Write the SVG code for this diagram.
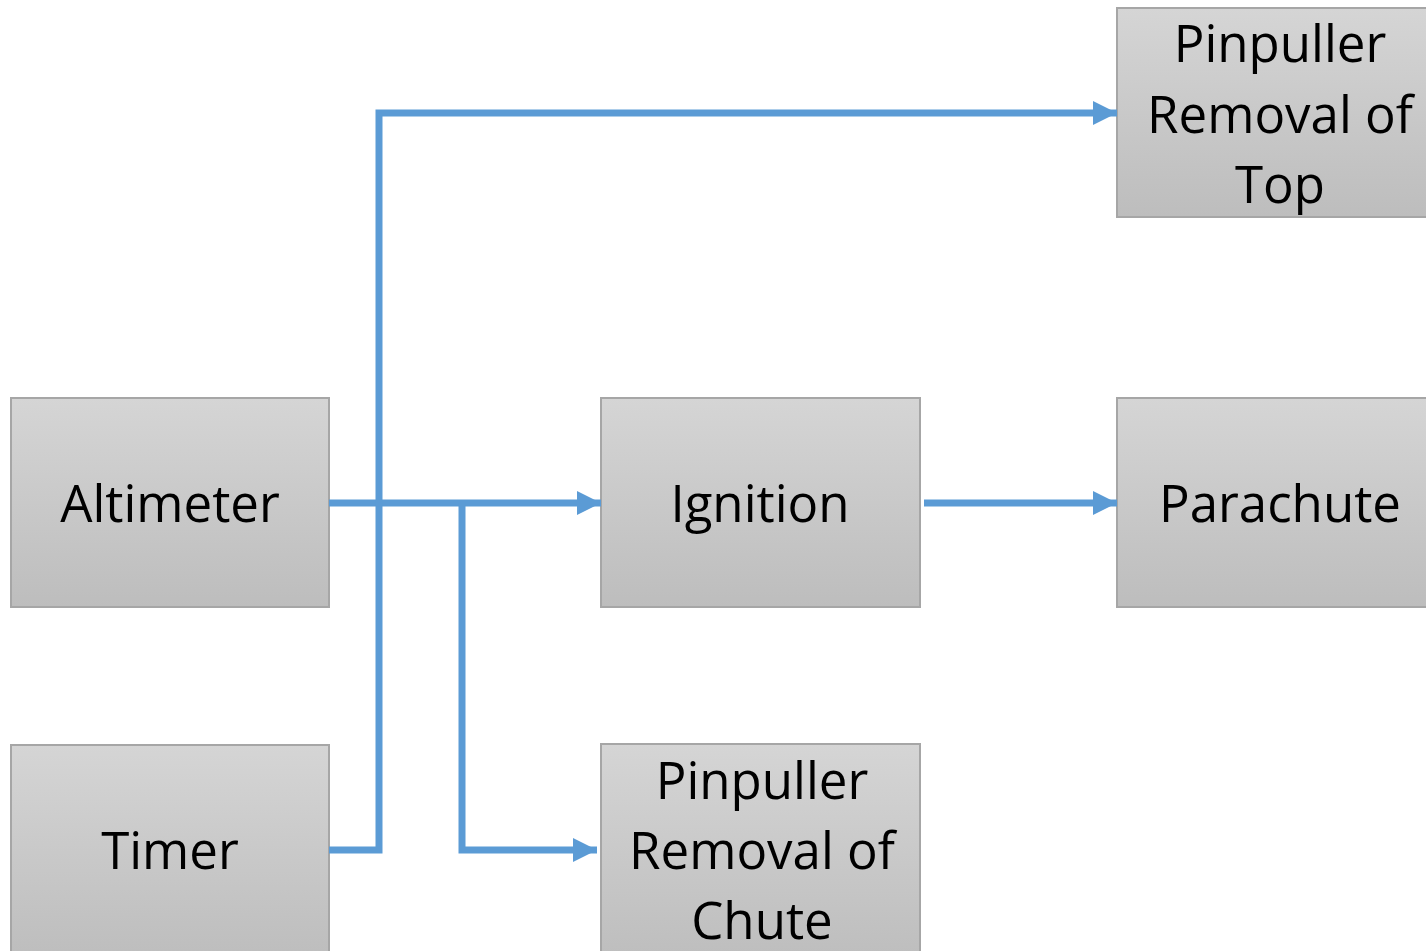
<svg xmlns="http://www.w3.org/2000/svg" width="1426" height="951" viewBox="0 0 1426 951">
<defs>
<linearGradient id="g" x1="0" y1="0" x2="0" y2="1">
<stop offset="0" stop-color="#d5d5d5"/>
<stop offset="1" stop-color="#bdbdbd"/>
</linearGradient>
<marker id="ah" markerWidth="24" markerHeight="24" refX="24" refY="12" orient="auto" markerUnits="userSpaceOnUse">
<path d="M0,0 L24,12 L0,24 Z" fill="#5b9bd5"/>
</marker>
</defs>
<style>
.box{fill:url(#g);stroke:#a6a6a6;stroke-width:2}
.t{font-family:"Open Sans","Liberation Sans",sans-serif;font-size:51px;fill:#000;text-anchor:middle}
.c{fill:none;stroke:#5b9bd5;stroke-width:7}
</style>
<g id="altimeter"><rect class="box" x="11" y="398" width="318" height="209"/><text class="t" x="170" y="522">Altimeter</text></g>
<g id="timer"><rect class="box" x="11" y="745" width="318" height="215"/><text class="t" x="170" y="869">Timer</text></g>
<g id="ignition"><rect class="box" x="601" y="398" width="319" height="209"/><text class="t" x="760" y="522">Ignition</text></g>
<g id="parachute"><rect class="box" x="1117" y="398" width="319" height="209"/><text class="t" x="1280" y="522">Parachute</text></g>
<g id="pinpuller-top"><rect class="box" x="1117" y="8" width="319" height="209"/><text class="t" x="1280" y="62">Pinpuller</text><text class="t" x="1280" y="133">Removal of</text><text class="t" x="1280" y="203">Top</text></g>
<g id="pinpuller-chute"><rect class="box" x="601" y="744" width="319" height="220"/><text class="t" x="762" y="799">Pinpuller</text><text class="t" x="762" y="869">Removal of</text><text class="t" x="762" y="939">Chute</text></g>
<g id="connectors">
<path class="c" d="M329,503 H601" marker-end="url(#ah)"/>
<path class="c" d="M329,850 H379 V113 H1117" marker-end="url(#ah)"/>
<path class="c" d="M462,503 V850 H597" marker-end="url(#ah)"/>
<path class="c" d="M924,503 H1117" marker-end="url(#ah)"/>
</g>
</svg>
